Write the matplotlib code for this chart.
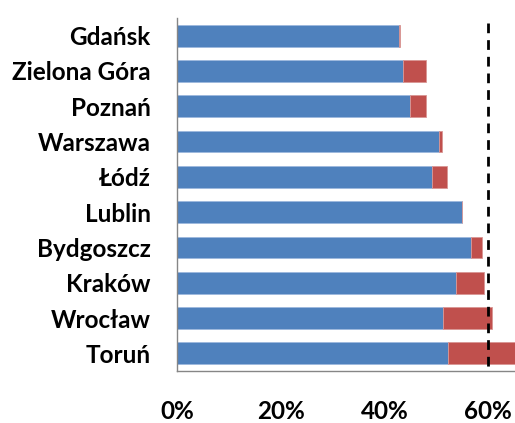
import matplotlib.pyplot as plt
from matplotlib.ticker import FuncFormatter

plt.rcParams['font.family'] = ['Lato', 'DejaVu Sans']

# City names, top to bottom as in the chart
cities = ["Gdańsk", "Zielona Góra", "Poznań", "Warszawa", "Łódź",
          "Lublin", "Bydgoszcz", "Kraków", "Wrocław", "Toruń"]
# Blue part and red part of each bar (percent)
blue = [42.9, 43.5, 44.9, 50.6, 49.2, 55.0, 56.7, 53.8, 51.3, 52.3]
red = [0.2, 4.6, 3.2, 0.5, 2.9, 0.0, 2.2, 5.4, 9.4, 13.5]
threshold = 60
xticks = [0, 20, 40, 60]

fig = plt.figure(figsize=(5.15, 4.23), dpi=100)
ax = fig.add_axes([177 / 515, 52 / 423, 338 / 515, 353 / 423])

ypos = list(range(len(cities)))
ax.barh(ypos, blue, height=0.62, color="#4F81BD", edgecolor="#9DB9DE", linewidth=0.6)
ax.barh(ypos, red, left=blue, height=0.62, color="#C0504D", edgecolor="#D99694", linewidth=0.6)

ax.plot([threshold, threshold], [-0.35, 9.5], color="black", lw=2,
        linestyle=(0, (3.5, 2.5)), clip_on=False)

ax.set_ylim(9.5, -0.5)
ax.set_xlim(0, 65.2)
ax.set_yticks(ypos)
ax.set_yticklabels(cities, fontsize=17.5, fontweight="bold")
ax.set_xticks(xticks)
ax.xaxis.set_major_formatter(FuncFormatter(lambda v, p: f"{v:.0f}%"))
for lab in ax.get_xticklabels():
    lab.set_fontsize(17.5)
    lab.set_fontweight("bold")
ax.tick_params(axis="y", length=0, pad=19)
ax.tick_params(axis="x", length=0, pad=21)

for s in ["top", "right"]:
    ax.spines[s].set_visible(False)
for s in ["left", "bottom"]:
    ax.spines[s].set_color("#868686")
    ax.spines[s].set_linewidth(1.0)

fig.savefig("out.png", dpi=100)
